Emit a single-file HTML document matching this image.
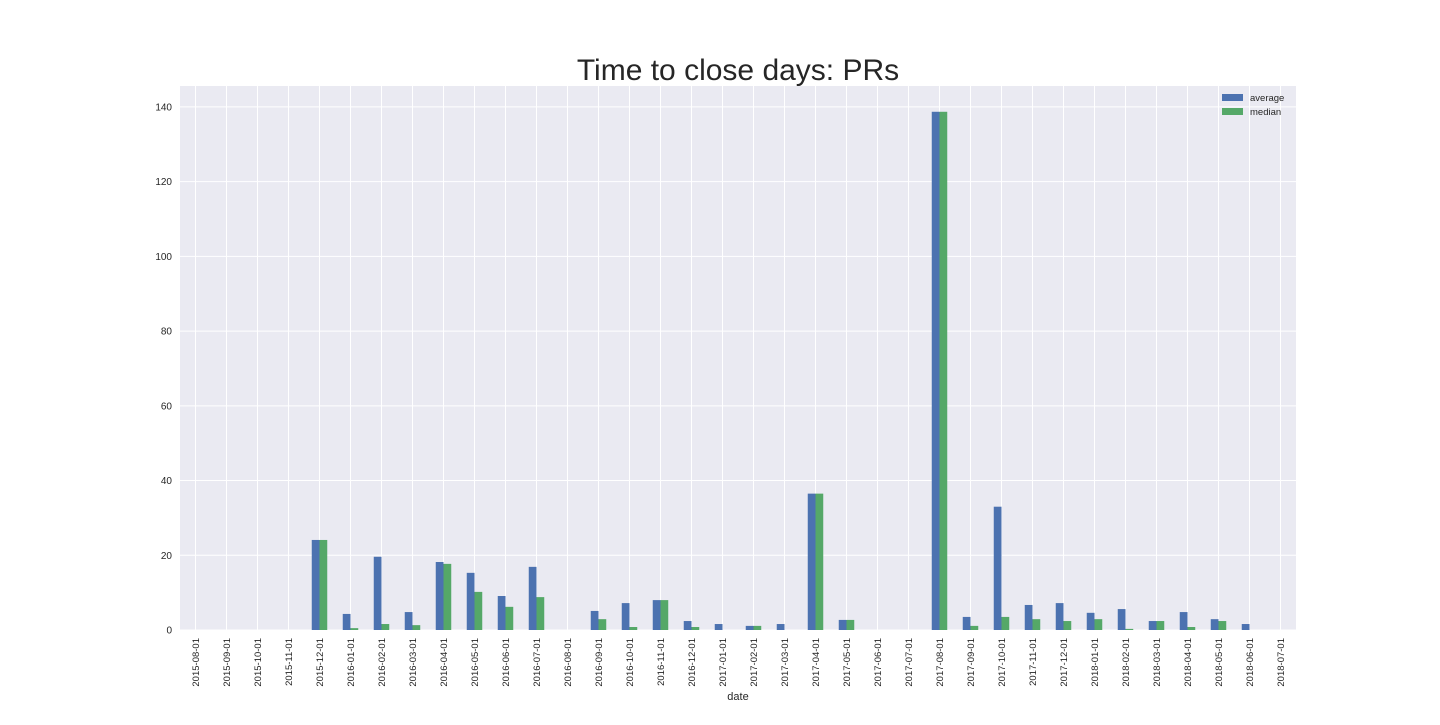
<!DOCTYPE html>
<html><head><meta charset="utf-8"><style>
body{margin:0;background:#fff;width:1440px;height:720px;overflow:hidden;font-family:"Liberation Sans",sans-serif}
</style></head><body>
<svg id="chart" width="1440" height="720" xmlns="http://www.w3.org/2000/svg" font-family="Liberation Sans, sans-serif">
<text x="738" y="80" text-anchor="middle" font-size="30" fill="#262626">Time to close days: PRs</text>
<rect x="180" y="86" width="1116" height="544" fill="#eaeaf2"/>
<g id="grid"></g><g id="bars"></g><g id="xt"></g><g id="yt"></g>
<text x="738" y="700" text-anchor="middle" font-size="11" fill="#262626">date</text>
<g>
<rect x="1222" y="94" width="21" height="7" fill="#4c72b0"/><text x="1250" y="101" font-size="9.5" fill="#262626">average</text>
<rect x="1222" y="108" width="21" height="7" fill="#55a868"/><text x="1250" y="115" font-size="9.5" fill="#262626">median</text>
</g>
</svg>
<script>
const categories=["2015-08-01","2015-09-01","2015-10-01","2015-11-01","2015-12-01","2016-01-01","2016-02-01","2016-03-01","2016-04-01","2016-05-01","2016-06-01","2016-07-01","2016-08-01","2016-09-01","2016-10-01","2016-11-01","2016-12-01","2017-01-01","2017-02-01","2017-03-01","2017-04-01","2017-05-01","2017-06-01","2017-07-01","2017-08-01","2017-09-01","2017-10-01","2017-11-01","2017-12-01","2018-01-01","2018-02-01","2018-03-01","2018-04-01","2018-05-01","2018-06-01","2018-07-01"];
const average=[0,0,0,0,24.1,4.3,19.6,4.8,18.2,15.3,9.1,16.9,0,5.1,7.2,8.0,2.4,1.6,1.1,1.6,36.5,2.7,0,0,138.7,3.5,33,6.7,7.2,4.6,5.6,2.4,4.8,2.9,1.6,0];
const median=[0,0,0,0,24.1,0.5,1.6,1.3,17.7,10.2,6.2,8.8,0,2.9,0.8,8.0,0.8,0,1.1,0,36.5,2.7,0,0,138.7,1.1,3.5,2.9,2.4,2.9,0.3,2.4,0.8,2.4,0,0];
const yTicks=[0,20,40,60,80,100,120,140];
const NS="http://www.w3.org/2000/svg";
const L=180,R=1296,T=86,B=630,yMax=145.6;
const step=(R-L)/categories.length;
const xs=i=>L+step*(i+0.5);
const ys=v=>B-v/yMax*(B-T);
const bw=step*0.25;
function mk(t,a,p){const e=document.createElementNS(NS,t);for(const k in a)e.setAttribute(k,a[k]);document.getElementById(p).appendChild(e);return e;}
yTicks.forEach(v=>{
 const g=mk("line",{x1:L,x2:R,y1:ys(v),y2:ys(v),stroke:"#fff","stroke-width":1},"grid");
 
 
 const t=mk("text",{x:L-8,y:ys(v)+3.5,"text-anchor":"end","font-size":"10",fill:"#262626"},"yt");
 t.textContent=v;
 
 
});
categories.forEach((c,i)=>{
 const x=xs(i);
 const g=mk("line",{x1:x,x2:x,y1:T,y2:B,stroke:"#fff","stroke-width":1},"grid");
 
 
 const a=mk("rect",{x:x-bw,y:ys(average[i]),width:bw,height:B-ys(average[i]),fill:"#4c72b0"},"bars");
 
 
 const m=mk("rect",{x:x,y:ys(median[i]),width:bw,height:B-ys(median[i]),fill:"#55a868"},"bars");
 
 
 const t=mk("text",{transform:`translate(${x+3.5},638) rotate(-90)`,"text-anchor":"end","font-size":"9.5",fill:"#262626"},"xt");
 t.textContent=c;
 
 
});
</script>
</body></html>
